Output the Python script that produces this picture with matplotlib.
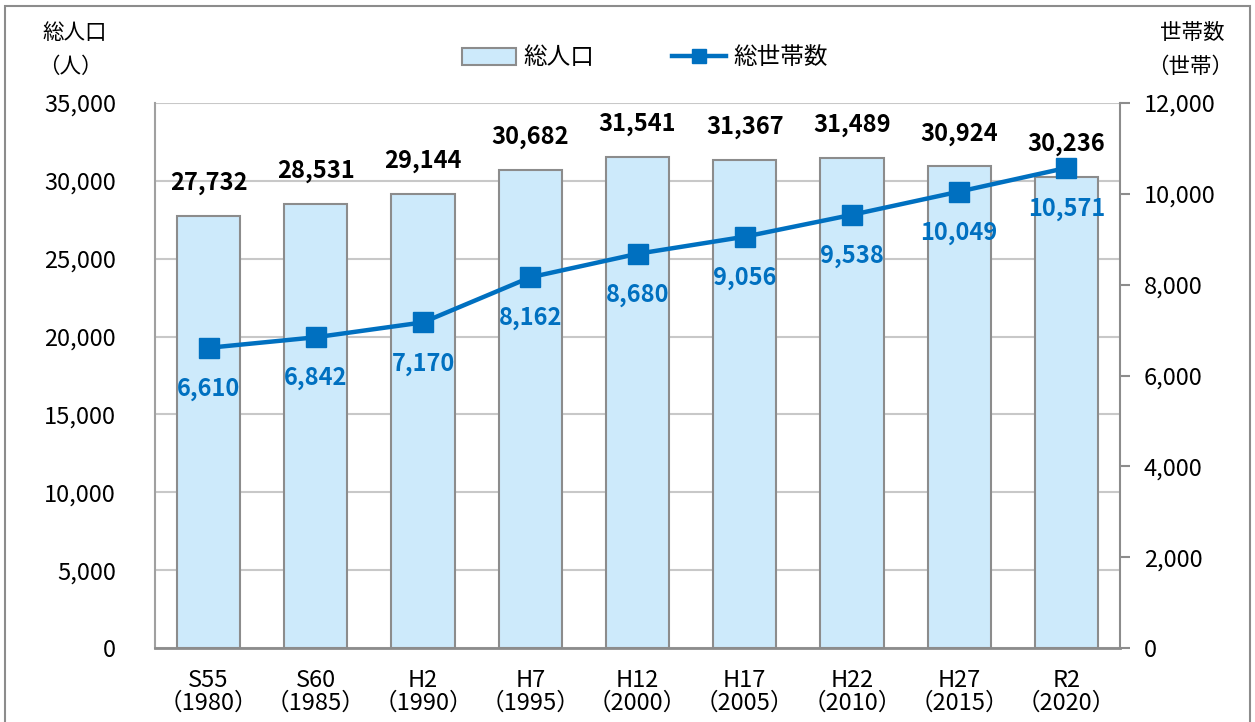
import matplotlib
matplotlib.use('Agg')
import matplotlib.pyplot as plt
import matplotlib.patches as patches
from matplotlib.lines import Line2D

plt.rcParams['font.family'] = ['Noto Sans CJK JP', 'DejaVu Sans']

# data
labels = ['S55\n（1980）', 'S60\n（1985）', 'H2\n（1990）', 'H7\n（1995）', 'H12\n（2000）',
          'H17\n（2005）', 'H22\n（2010）', 'H27\n（2015）', 'R2\n（2020）']
population = [27732, 28531, 29144, 30682, 31541, 31367, 31489, 30924, 30236]
households = [6610, 6842, 7170, 8162, 8680, 9056, 9538, 10049, 10571]

bar_color = '#cdeafb'
line_color = '#0070c0'
grey = '#8c8c8c'

fig = plt.figure(figsize=(12.55, 7.22), dpi=100)
ax = fig.add_axes([155 / 1255, 1 - 648 / 722, 965 / 1255, 545 / 722])
ax2 = ax.twinx()

x = list(range(len(labels)))
ax.bar(x, population, width=0.59, color=bar_color, edgecolor=grey, linewidth=1.5, zorder=2)
ax.set_ylim(0, 35000)
ax.set_xlim(-0.5, len(labels) - 0.5)
ax.set_yticks(range(0, 35001, 5000))
ax.set_yticklabels([f'{v:,}' for v in range(0, 35001, 5000)])
ax.yaxis.grid(True, color='#c8c8c8', linewidth=1.5, zorder=0)
ax.set_axisbelow(True)
ax.set_xticks(x)
ax.set_xticklabels(labels, linespacing=1.0)
ax.tick_params(axis='y', length=0, labelsize=17, pad=28)
ax.tick_params(axis='x', length=0, labelsize=17, pad=15)
for s in ['top', 'right']:
    ax.spines[s].set_visible(False)
ax.spines['left'].set_color('#a0a0a0')
ax.spines['left'].set_linewidth(1.5)
ax.spines['bottom'].set_color(grey)
ax.spines['bottom'].set_linewidth(2)

for xi, v in zip(x, population):
    ax.annotate(f'{v:,}', (xi, v), xytext=(0, 15), textcoords='offset points',
                ha='center', va='bottom', fontsize=17, fontweight='bold', color='black')

ax2.plot(x, households, color=line_color, linewidth=3.2, marker='s', markersize=15, zorder=3)
ax2.set_ylim(0, 12000)
ax2.set_yticks(range(0, 12001, 2000))
ax2.set_yticklabels([f'{v:,}' for v in range(0, 12001, 2000)])
ax2.tick_params(axis='y', length=7, width=1.5, color=grey, labelsize=17, pad=10)
for s in ['top', 'left', 'bottom']:
    ax2.spines[s].set_visible(False)
ax2.spines['right'].set_color(grey)
ax2.spines['right'].set_linewidth(1.5)

for xi, v in zip(x, households):
    ax2.annotate(f'{v:,}', (xi, v), xytext=(0, -21), textcoords='offset points',
                 ha='center', va='top', fontsize=17, fontweight='bold', color=line_color)

# axis titles
fig.text(75 / 1255, 1 - 33 / 722, '総人口', ha='center', va='center', fontsize=15.5)
fig.text(70 / 1255, 1 - 67 / 722, '（人）', ha='center', va='center', fontsize=15.5)
fig.text(1192 / 1255, 1 - 33 / 722, '世帯数', ha='center', va='center', fontsize=15.5)
fig.text(1190 / 1255, 1 - 67 / 722, '（世帯）', ha='center', va='center', fontsize=15.5)

# legend
handles = [patches.Patch(facecolor=bar_color, edgecolor=grey, linewidth=1.5),
           Line2D([0], [0], color=line_color, linewidth=3.2, marker='s', markersize=10)]
fig.legend(handles, ['総人口', '総世帯数'], loc='center', bbox_to_anchor=(645 / 1255, 1 - 58 / 722),
           ncol=2, frameon=False, fontsize=17, columnspacing=3.3, handlelength=2.3, handletextpad=0.3)

# outer frame
fig.patches.append(patches.Rectangle((5 / 1255, -0.05), 1245 / 1255, 1.05 - 6 / 722, fill=False,
                                     edgecolor=grey, linewidth=1.5, transform=fig.transFigure))

plt.savefig('out.png', dpi=100)
